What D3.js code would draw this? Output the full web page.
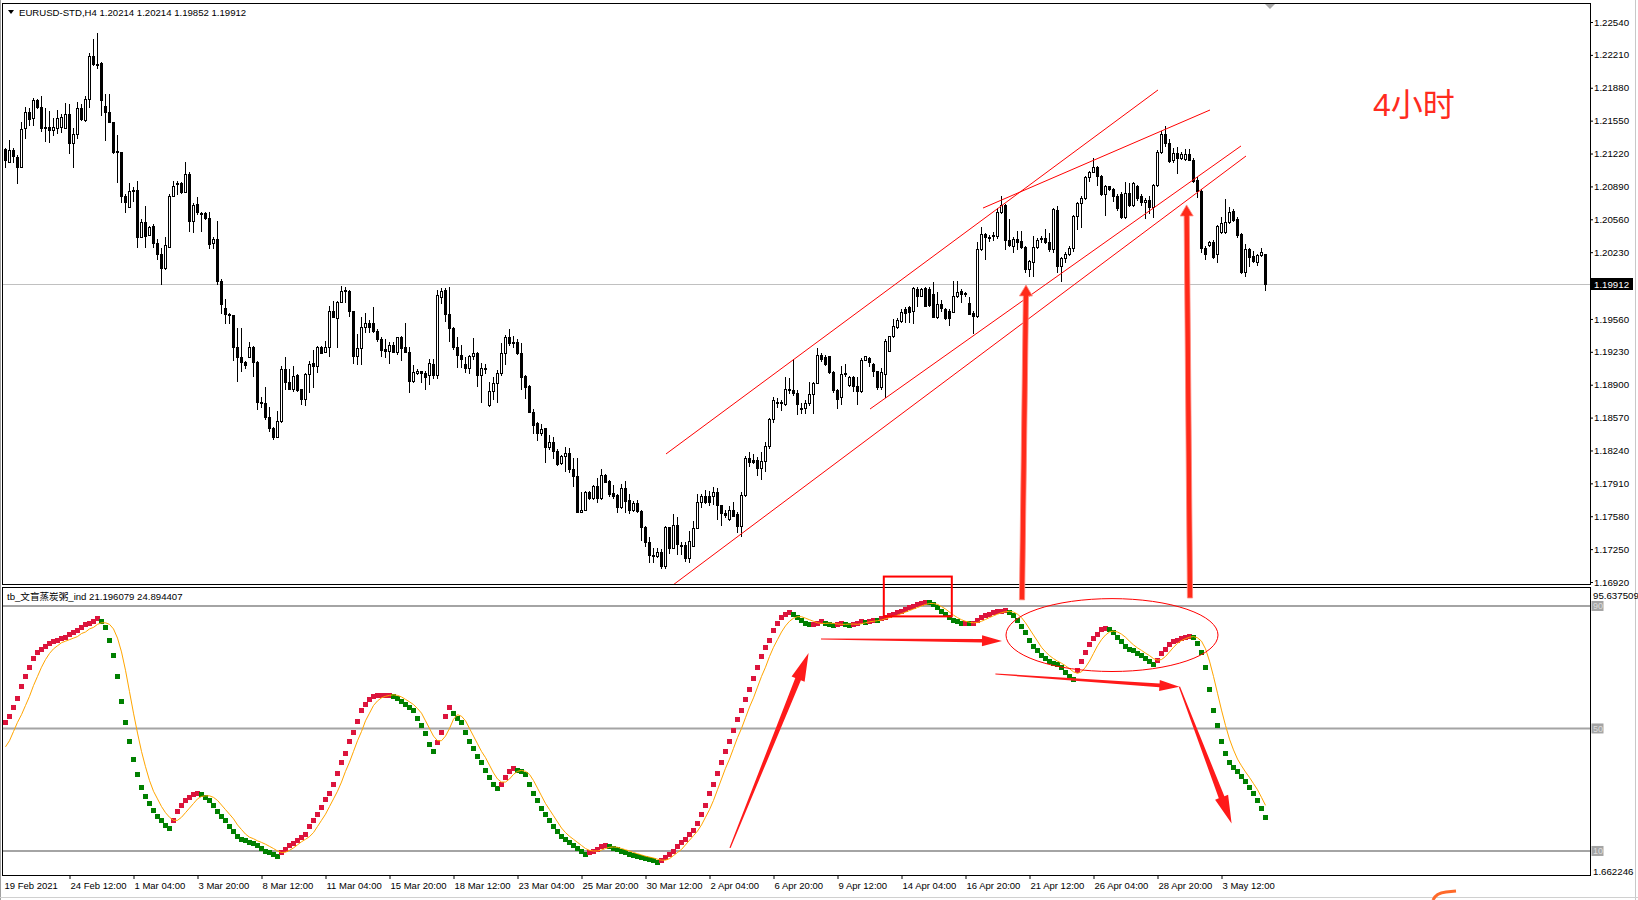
<!DOCTYPE html>
<html><head><meta charset="utf-8">
<script src="https://cdn.jsdelivr.net/npm/d3@7"></script>
<style>
html,body{margin:0;padding:0;background:#fff;overflow:hidden;}
svg{display:block;}
text{font-family:"Liberation Sans",Arial,"Noto Sans CJK SC",sans-serif;}
</style></head><body>
<svg id="chart" width="1638" height="900"></svg>
<script>
// ---------------- DATA ----------------
const opens=[1.2127,1.2113,1.2126,1.2119,1.2108,1.2148,1.2164,1.2158,1.2176,1.2169,
1.2148,1.2149,1.2146,1.2148,1.2149,1.2148,1.2162,1.2133,1.2142,1.2168,
1.2156,1.2177,1.2220,1.2212,1.2213,1.2170,1.2164,1.2154,1.2125,1.2124,
1.2079,1.2068,1.2084,1.2085,1.2038,1.2053,1.2040,1.2049,1.2032,1.2021,
1.2007,1.2028,1.2079,1.2091,1.2092,1.2083,1.2101,1.2054,1.2071,1.2062,
1.2062,1.2057,1.2032,1.2036,1.1994,1.1967,1.1961,1.1960,1.1928,1.1918,
1.1913,1.1918,1.1928,1.1913,1.1873,1.1872,1.1858,1.1847,1.1838,1.1854,
1.1906,1.1893,1.1886,1.1900,1.1886,1.1876,1.1901,1.1912,1.1909,1.1928,
1.1923,1.1928,1.1964,1.1957,1.1973,1.1985,1.1984,1.1964,1.1919,1.1927,
1.1948,1.1952,1.1952,1.1944,1.1936,1.1926,1.1924,1.1930,1.1923,1.1938,
1.1928,1.1923,1.1894,1.1902,1.1904,1.1902,1.1900,1.1911,1.1900,1.1978,
1.1985,1.1961,1.1947,1.1928,1.1920,1.1911,1.1907,1.1919,1.1922,1.1900,
1.1907,1.1870,1.1884,1.1892,1.1902,1.1922,1.1938,1.1933,1.1933,1.1922,
1.1899,1.1889,1.1863,1.1852,1.1842,1.1847,1.1827,1.1833,1.1823,1.1811,
1.1818,1.1821,1.1805,1.1798,1.1762,1.1764,1.1782,1.1776,1.1788,1.1776,
1.1799,1.1793,1.1781,1.1779,1.1767,1.1786,1.1774,1.1764,1.1771,1.1763,
1.1747,1.1732,1.1719,1.1718,1.1722,1.1708,1.1747,1.1726,1.1749,1.1729,
1.1729,1.1716,1.1728,1.1746,1.1772,1.1778,1.1778,1.1778,1.1782,1.1769,
1.1761,1.1755,1.1764,1.1760,1.1748,1.1779,1.1816,1.1814,1.1814,1.1806,
1.1813,1.1828,1.1856,1.1873,1.1872,1.1871,1.1885,1.1885,1.1882,1.1866,
1.1867,1.1872,1.1881,1.1892,1.1920,1.1918,1.1919,1.1903,1.1885,1.1878,
1.1901,1.1890,1.1898,1.1889,1.1884,1.1915,1.1917,1.1911,1.1904,1.1888,
1.1901,1.1924,1.1939,1.1948,1.1954,1.1966,1.1968,1.1964,1.1986,1.1979,
1.1987,1.1986,1.1981,1.1958,1.1971,1.1966,1.1964,1.1963,1.1979,1.1984,
1.1982,1.1972,1.1962,1.1959,1.2026,1.2041,1.2038,1.2039,1.2039,1.2063,
1.2070,1.2035,1.2029,1.2036,1.2034,1.2028,1.2006,1.2013,1.2028,1.2036,
1.2037,1.2033,1.2026,1.2065,1.2009,1.2017,1.2021,1.2027,1.2059,1.2072,
1.2077,1.2098,1.2103,1.2108,1.2099,1.2081,1.2089,1.2086,1.2079,1.2081,
1.2058,1.2082,1.2070,1.2089,1.2079,1.2073,1.2075,1.2068,1.2090,1.2124,
1.2142,1.2133,1.2116,1.2123,1.2118,1.2117,1.2122,1.2116,1.2095,1.2084,
1.2027,1.2030,1.2033,1.2021,1.2043,1.2043,1.2053,1.2064,1.2056,1.2041,
1.2003,1.2026,1.2019,1.2013,1.2020,1.20214];
const highs=[1.2128,1.2136,1.2128,1.2121,1.2154,1.2169,1.2168,1.2178,1.2177,1.2180,
1.2168,1.2165,1.2158,1.2166,1.2162,1.2173,1.2172,1.2148,1.2174,1.2172,
1.2180,1.2223,1.2237,1.2243,1.2214,1.2182,1.2182,1.2154,1.2141,1.2124,
1.2081,1.2092,1.2088,1.2094,1.2056,1.2069,1.2049,1.2051,1.2036,1.2027,
1.2038,1.2081,1.2094,1.2094,1.2093,1.2113,1.2103,1.2072,1.2078,1.2063,
1.2063,1.2063,1.2038,1.2054,1.1996,1.1976,1.1962,1.1960,1.1947,1.1947,
1.1914,1.1933,1.1929,1.1914,1.1878,1.1888,1.1868,1.1848,1.1864,1.1909,
1.1918,1.1906,1.1909,1.1901,1.1886,1.1902,1.1914,1.1925,1.1929,1.1929,
1.1934,1.1969,1.1974,1.1974,1.1989,1.1988,1.1985,1.1964,1.1941,1.1958,
1.1962,1.1955,1.1968,1.1946,1.1938,1.1936,1.1933,1.1933,1.1938,1.1939,
1.1952,1.1928,1.1910,1.1906,1.1904,1.1904,1.1916,1.1916,1.1985,1.1987,
1.1987,1.1988,1.1948,1.1938,1.1930,1.1918,1.1920,1.1937,1.1923,1.1912,
1.1911,1.1893,1.1898,1.1905,1.1932,1.1940,1.1946,1.1939,1.1936,1.1932,
1.1900,1.1890,1.1866,1.1853,1.1851,1.1847,1.1840,1.1838,1.1825,1.1819,
1.1827,1.1826,1.1816,1.1816,1.1782,1.1783,1.1783,1.1789,1.1796,1.1805,
1.1800,1.1794,1.1789,1.1780,1.1790,1.1793,1.1780,1.1773,1.1774,1.1764,
1.1748,1.1737,1.1726,1.1726,1.1725,1.1748,1.1747,1.1760,1.1757,1.1732,
1.1732,1.1743,1.1753,1.1780,1.1780,1.1784,1.1783,1.1787,1.1786,1.1769,
1.1764,1.1768,1.1772,1.1762,1.1782,1.1818,1.1822,1.1820,1.1817,1.1822,
1.1832,1.1857,1.1878,1.1877,1.1875,1.1898,1.1897,1.1916,1.1885,1.1872,
1.1875,1.1893,1.1893,1.1927,1.1922,1.1920,1.1919,1.1904,1.1886,1.1909,
1.1911,1.1899,1.1899,1.1898,1.1917,1.1919,1.1918,1.1912,1.1904,1.1907,
1.1936,1.1939,1.1956,1.1957,1.1966,1.1968,1.1969,1.1988,1.1988,1.1987,
1.1988,1.1988,1.1993,1.1983,1.1975,1.1967,1.1966,1.1994,1.1994,1.1986,
1.1983,1.1978,1.1964,1.2033,1.2048,1.2042,1.2040,1.2043,1.2067,1.2079,
1.2071,1.2056,1.2038,1.2044,1.2044,1.2029,1.2015,1.2039,1.2037,1.2039,
1.2046,1.2042,1.2067,1.2069,1.2018,1.2023,1.2029,1.2060,1.2073,1.2079,
1.2099,1.2104,1.2118,1.2109,1.2100,1.2090,1.2089,1.2087,1.2081,1.2083,
1.2093,1.2092,1.2093,1.2090,1.2081,1.2077,1.2079,1.2091,1.2126,1.2145,
1.2150,1.2137,1.2128,1.2129,1.2124,1.2127,1.2127,1.2118,1.2098,1.2086,
1.2029,1.2034,1.2035,1.2050,1.2058,1.2076,1.2068,1.2066,1.2058,1.2042,
1.2031,1.2027,1.2024,1.2021,1.2027,1.20214];
const lows=[1.2108,1.2113,1.2113,1.2092,1.2108,1.2138,1.2151,1.2151,1.2168,1.2145,
1.2135,1.2134,1.2141,1.2143,1.2144,1.2148,1.2123,1.2108,1.2138,1.2156,
1.2155,1.2169,1.2211,1.2208,1.2161,1.2136,1.2154,1.2123,1.2093,1.2073,
1.2063,1.2068,1.2074,1.2028,1.2038,1.2028,1.2040,1.2028,1.2016,1.1991,
1.2006,1.2028,1.2079,1.2081,1.2082,1.2083,1.2044,1.2043,1.2061,1.2044,
1.2056,1.2027,1.2027,1.1991,1.1962,1.1952,1.1952,1.1915,1.1894,1.1904,
1.1907,1.1918,1.1899,1.1866,1.1868,1.1856,1.1844,1.1836,1.1838,1.1853,
1.1886,1.1886,1.1884,1.1884,1.1871,1.1870,1.1883,1.1888,1.1903,1.1922,
1.1923,1.1919,1.1958,1.1928,1.1973,1.1973,1.1959,1.1912,1.1911,1.1911,
1.1943,1.1943,1.1943,1.1934,1.1919,1.1918,1.1912,1.1923,1.1921,1.1915,
1.1923,1.1883,1.1893,1.1901,1.1893,1.1886,1.1891,1.1897,1.1897,1.1972,
1.1954,1.1934,1.1926,1.1908,1.1908,1.1903,1.1902,1.1916,1.1889,1.1873,
1.1902,1.1869,1.1876,1.1873,1.1900,1.1911,1.1930,1.1928,1.1921,1.1886,
1.1877,1.1863,1.1842,1.1835,1.1840,1.1812,1.1825,1.1816,1.1809,1.1810,
1.1803,1.1802,1.1788,1.1762,1.1762,1.1764,1.1775,1.1775,1.1772,1.1775,
1.1792,1.1778,1.1776,1.1762,1.1766,1.1762,1.1761,1.1763,1.1762,1.1734,
1.1728,1.1712,1.1712,1.1717,1.1706,1.1706,1.1721,1.1726,1.1720,1.1720,
1.1713,1.1712,1.1728,1.1746,1.1767,1.1771,1.1769,1.1770,1.1755,1.1749,
1.1757,1.1754,1.1758,1.1742,1.1738,1.1778,1.1808,1.1811,1.1799,1.1795,
1.1803,1.1826,1.1853,1.1868,1.1865,1.1870,1.1882,1.1880,1.1861,1.1862,
1.1862,1.1870,1.1862,1.1892,1.1914,1.1910,1.1902,1.1883,1.1867,1.1871,
1.1899,1.1889,1.1884,1.1871,1.1883,1.1915,1.1909,1.1899,1.1886,1.1886,
1.1878,1.1924,1.1938,1.1947,1.1953,1.1953,1.1953,1.1952,1.1969,1.1979,
1.1969,1.1969,1.1958,1.1957,1.1964,1.1956,1.1950,1.1963,1.1978,1.1973,
1.1979,1.1961,1.1942,1.1958,1.2025,1.2016,1.2034,1.2035,1.2037,1.2062,
1.2026,1.2029,1.2023,1.2026,1.2027,1.2003,1.1999,1.1999,1.2027,1.2033,
1.2032,1.2024,1.2023,1.2003,1.1994,1.2013,1.2020,1.2024,1.2046,1.2048,
1.2076,1.2094,1.2103,1.2090,1.2080,1.2060,1.2085,1.2074,1.2065,1.2057,
1.2057,1.2069,1.2069,1.2075,1.2070,1.2057,1.2062,1.2058,1.2089,1.2123,
1.2130,1.2113,1.2114,1.2102,1.2117,1.2116,1.2116,1.2093,1.2078,1.2023,
1.2016,1.2029,1.2017,1.2013,1.2042,1.2042,1.2052,1.2054,1.2038,1.2002,
1.1999,1.2009,1.2013,1.2010,1.2019,1.19852];
const closes=[1.2116,1.2126,1.2120,1.2108,1.2147,1.2164,1.2157,1.2176,1.2169,1.2148,
1.2149,1.2146,1.2149,1.2158,1.2159,1.2162,1.2133,1.2142,1.2168,1.2157,
1.2177,1.2220,1.2212,1.2211,1.2176,1.2164,1.2154,1.2124,1.2124,1.2079,
1.2073,1.2084,1.2085,1.2038,1.2053,1.2039,1.2048,1.2032,1.2021,1.2007,
1.2030,1.2079,1.2089,1.2092,1.2083,1.2101,1.2054,1.2070,1.2063,1.2061,
1.2057,1.2031,1.2036,1.1994,1.1971,1.1961,1.1960,1.1928,1.1918,1.1913,
1.1910,1.1928,1.1913,1.1873,1.1872,1.1858,1.1847,1.1838,1.1854,1.1906,
1.1893,1.1886,1.1899,1.1885,1.1876,1.1901,1.1911,1.1909,1.1928,1.1922,
1.1928,1.1964,1.1958,1.1973,1.1984,1.1984,1.1964,1.1919,1.1927,1.1948,
1.1952,1.1948,1.1944,1.1936,1.1925,1.1924,1.1930,1.1923,1.1938,1.1927,
1.1923,1.1894,1.1903,1.1904,1.1902,1.1898,1.1912,1.1900,1.1980,1.1984,
1.1961,1.1947,1.1928,1.1920,1.1916,1.1907,1.1919,1.1922,1.1900,1.1907,
1.1906,1.1884,1.1892,1.1902,1.1922,1.1938,1.1932,1.1932,1.1922,1.1898,
1.1888,1.1863,1.1850,1.1842,1.1846,1.1827,1.1833,1.1823,1.1810,1.1818,
1.1821,1.1805,1.1798,1.1762,1.1764,1.1782,1.1776,1.1788,1.1776,1.1799,
1.1792,1.1780,1.1778,1.1767,1.1786,1.1773,1.1764,1.1771,1.1763,1.1747,
1.1732,1.1719,1.1718,1.1722,1.1708,1.1747,1.1726,1.1749,1.1730,1.1728,
1.1716,1.1733,1.1746,1.1772,1.1778,1.1772,1.1772,1.1782,1.1769,1.1761,
1.1759,1.1764,1.1758,1.1748,1.1779,1.1816,1.1812,1.1812,1.1806,1.1813,
1.1828,1.1856,1.1875,1.1872,1.1873,1.1886,1.1886,1.1882,1.1871,1.1867,
1.1872,1.1881,1.1892,1.1920,1.1916,1.1911,1.1903,1.1885,1.1876,1.1901,
1.1902,1.1898,1.1889,1.1884,1.1915,1.1919,1.1913,1.1904,1.1888,1.1903,
1.1934,1.1939,1.1949,1.1955,1.1963,1.1962,1.1963,1.1987,1.1979,1.1986,
1.1969,1.1970,1.1958,1.1971,1.1967,1.1957,1.1957,1.1979,1.1983,1.1981,
1.1981,1.1961,1.1959,1.2026,1.2041,1.2038,1.2037,1.2040,1.2063,1.2070,
1.2035,1.2030,1.2036,1.2033,1.2028,1.2006,1.2014,1.2028,1.2035,1.2037,
1.2033,1.2026,1.2066,1.2009,1.2017,1.2021,1.2027,1.2059,1.2072,1.2077,
1.2098,1.2103,1.2108,1.2099,1.2081,1.2089,1.2086,1.2079,1.2067,1.2058,
1.2082,1.2070,1.2092,1.2077,1.2073,1.2075,1.2068,1.2090,1.2124,1.2142,
1.2133,1.2115,1.2123,1.2118,1.2122,1.2122,1.2116,1.2094,1.2084,1.2027,
1.2021,1.2033,1.2018,1.2049,1.2052,1.2053,1.2063,1.2055,1.2040,1.2003,
1.2026,1.2018,1.2014,1.2020,1.2023,1.19912];

const indicatorValues=[52,54,57,60,64,67,70,73,75,76,
77,78,78.5,79,79.5,80,81,81.5,82,83,
84,84.5,85,86,85,83,79,74,67,59,
52,46,40,35,31,28,25.5,23.5,21.5,20,
18.5,17.5,20,23,25,26.5,27.5,28.5,29,28.5,
27.5,26.5,25,23,21.5,20,18,16.5,15,14,
13.5,13,12.5,12,11,10,9.5,9,8.4,9.5,
10.5,12,12.5,13.5,14.5,15.5,18,20,22,24.5,
27,29,32,35.5,39,42,46,49,52.5,56,
58,59.5,60.5,61,61,61,61,60.5,60,59,
58,57,56,53.5,51,48.5,45,42.5,45.5,49,
54,57,55,53.5,52,49,46,43.5,41,39,
36.5,34,32,30.5,32,34,36,37,36.5,36,
35,32,29,26.5,24,22,20,18,16.5,15,
14,13,12,11,10,9,9.5,10,10.5,11.5,
12,11.5,11,10.5,10,9.5,9,8.7,8.3,8,
7.8,7.5,7,6.3,7,8,9,10,11.5,13,
14,15.5,17,19,22,25,29,32,35.5,39,
42.5,46,49.5,53,56,59.5,63,66.5,70,73.5,
76.5,79,82,84.5,86.5,87.5,88,87.5,86.5,85.5,
84.5,84,84,84.5,85,84.5,84,83.8,84,84.5,
84,83.8,84,84.5,85,84.8,85,85.5,85.3,86,
86.5,87,87.5,88,88.5,89,89.5,90,90.5,91,
91.4,91.2,90.5,89.5,88.5,87.5,86.5,85.5,85,84.5,
84.5,84.3,84.5,85.5,86.5,87,87.5,88,88.3,88.5,
88.6,88,87,85.5,83.5,81.5,79,77,75.5,74,
73,72,71.5,71,70,68.5,67,66,69,72,
75,77.5,79.5,81,82.5,82.8,82.5,81.5,80,78.5,
77,76,75.5,74.5,74,73,72,71,72.5,74.5,
76,77.5,78.5,79,79.5,80,80.2,80,78,75,
70,63,56,51,46,42,39,37.5,36,34.5,
33,31,29,26.5,24,21.196079];
const signalValues=[44,46,49,52,54.5,57.5,60.5,64,67,70,
72.5,74.5,76,77,78,78.5,79,79.5,80,81,
81.5,82.5,83,84,84.5,84.5,84,82.5,79.5,75,
69,62,55,48.5,42.5,37.5,33,29.5,27,24.5,
22.5,21,20,20,21,22.5,24,25.5,27,27.8,
28,28,27.5,26.5,25,23.5,22,20.5,18.5,17,
15.5,14.5,14,13.3,12.8,12.2,11.5,10.8,10,9.5,
9.6,10.2,11,12,13,13.8,14.7,16,18,20,
22,24.5,27,29.5,32.5,36,39,42.5,46,49,
52.5,55,57.5,59,60,60.5,60.8,61,60.8,60.3,
59.5,58.7,57.8,56.5,55,52.5,50,47.5,46,46,
47.5,50,53,54.5,54,52.5,50,47.5,45,42.5,
40.5,38,35.5,33.5,32.5,32.5,33.5,35,36,36.3,
36,35,33,30.5,28,25.5,23.5,21.5,19.5,17.5,
16,14.8,13.8,12.8,11.8,10.8,10.2,10,10,10.3,
10.8,11.2,11.3,11.2,10.8,10.4,10,9.5,9.1,8.7,
8.3,8,7.7,7.3,7,7,7.5,8.5,9.5,10.5,
12,13.5,15,16.5,18.5,21,23.5,26.5,30,33.5,
37,40,43.5,47,50,53.5,57,60,63.5,67,
70,73.5,76.5,79,81.5,83.5,85,86,86.5,86.5,
86,85.5,85,84.5,84.3,84.3,84.4,84.3,84.1,84,
84,84.1,84.1,84,84.2,84.5,84.8,85,85.2,85.4,
85.8,86.2,86.6,87,87.5,88,88.5,89,89.5,90,
90.5,90.8,90.8,90.5,89.8,89,88,87,86.2,85.5,
85,84.7,84.5,84.6,85,85.6,86.2,86.8,87.3,87.8,
88.1,88.3,88,87.3,86.2,84.5,82.5,80.5,78.5,76.5,
75,73.8,72.8,72,71.3,70.5,69.5,68.5,68,68.5,
70,72,74.5,77,79,80.5,81.5,81.8,81.5,80.8,
79.8,78.5,77.3,76.3,75.5,74.6,73.8,72.8,72.3,72.5,
73.5,75,76.5,77.8,78.7,79.3,79.8,80,79.6,78.5,
76,72,67,61.5,56,51,46.5,43,40,37.8,
35.8,34,32,30,27.5,24.894407];

const priceTicks=[1.22540,1.22210,1.21880,1.21550,1.21220,1.20890,1.20560,1.20230,
1.19560,1.19230,1.18900,1.18570,1.18240,1.17910,1.17580,1.17250,1.16920];
const timeLabels=["19 Feb 2021","24 Feb 12:00","1 Mar 04:00","3 Mar 20:00","8 Mar 12:00","11 Mar 04:00",
"15 Mar 20:00","18 Mar 12:00","23 Mar 04:00","25 Mar 20:00","30 Mar 12:00","2 Apr 04:00","6 Apr 20:00",
"9 Apr 12:00","14 Apr 04:00","16 Apr 20:00","21 Apr 12:00","26 Apr 04:00","28 Apr 20:00","3 May 12:00"];
const timeTickBars=[0,16,32,48,64,80,96,112,128,144,160,176,192,208,224,240,256,272,288,304];
const indicatorLevels=[90,50,10];
const lastPrice=1.19912, indMax=95.637509, indMin=1.662246;
const symbolTitle="EURUSD-STD,H4  1.20214 1.20214 1.19852 1.19912";
const indicatorTitle="tb_文盲蒸炭粥_ind 21.196079 24.894407";
const noteText="4小时";

// annotations in data units: [bar, price] / [bar, indicator value]
const trendLines=[[[165.25,1.18205],[288.25,1.21858]],[[244.5,1.20673],[301.25,1.21657]],
  [[216.25,1.18656],[309,1.21296]],[[167,1.16890],[310.25,1.21195]]];
const upArrows=[{tail:[254.25,92],tip:[255.25,1.19901]},{tail:[296.25,92.6],tip:[295.4,1.20704]}];
const indArrows=[{from:[181.25,11],to:[200.9,74.6],big:true},{from:[204,79.2],to:[249.25,78.6],big:false},
  {from:[247.6,67.8],to:[293.6,63.6],big:false},{from:[293.6,63.6],to:[306.65,19.0],big:true}];
const boxNote={x0:219.7,x1:236.7,v0:99.6,v1:86.6};
const ellipseNote={cx:276.75,cv:80.5,rBars:26.5,rv:11.9};

// ---------------- DRAW ----------------
const W=1638,H=900,n=closes.length;
const svg=d3.select("#chart");
const x=d3.scaleLinear().domain([0,n-1]).range([5,5+4*(n-1)]);
const yP=d3.scaleLinear().domain([1.16920,1.22540]).range([582,22]);
const yI=d3.scaleLinear().domain([indMin,indMax]).range([876.5,588.7]);
const FONT='"Liberation Sans",Arial,sans-serif';

svg.append("rect").attr("width",W).attr("height",H).attr("fill","#fff");
const defs=svg.append("defs");
defs.append("clipPath").attr("id","cm").append("rect").attr("x",3).attr("y",4).attr("width",1587).attr("height",580);
defs.append("clipPath").attr("id","cs").append("rect").attr("x",3).attr("y",588).attr("width",1587).attr("height",287);

// window edges
svg.append("line").attr("x1",0.5).attr("x2",0.5).attr("y1",0).attr("y2",H).attr("stroke","#a0a0a0");
svg.append("line").attr("x1",1635.5).attr("x2",1635.5).attr("y1",0).attr("y2",H).attr("stroke","#c8c8c8");
svg.append("line").attr("x1",0).attr("x2",W).attr("y1",897.5).attr("y2",897.5).attr("stroke","#d0d0d0");

// current price line
const yc=Math.round(yP(lastPrice))+0.5;
svg.append("line").attr("x1",3).attr("x2",1590).attr("y1",yc).attr("y2",yc).attr("stroke","#c0c0c0");

// candles
const gC=svg.append("g").attr("clip-path","url(#cm)").attr("shape-rendering","crispEdges");
const idx=d3.range(n);
gC.selectAll("line.w").data(idx).join("line").attr("class","w")
  .attr("x1",i=>x(i)+0.5).attr("x2",i=>x(i)+0.5)
  .attr("y1",i=>Math.round(yP(Math.max(highs[i],opens[i],closes[i]))))
  .attr("y2",i=>Math.round(yP(Math.min(lows[i],opens[i],closes[i])))+1)
  .attr("stroke","#000");
idx.forEach(i=>{
  const t=Math.round(yP(Math.max(opens[i],closes[i]))), b=Math.round(yP(Math.min(opens[i],closes[i])));
  if(b-t<1){
    gC.append("line").attr("x1",x(i)-1).attr("x2",x(i)+2).attr("y1",t+0.5).attr("y2",t+0.5).attr("stroke","#000");
  } else {
    gC.append("rect").attr("x",x(i)-0.5).attr("y",t+0.5).attr("width",2).attr("height",b-t)
      .attr("fill",closes[i]>=opens[i]?"#fff":"#000").attr("stroke","#000");
  }
});

// panel frames
svg.append("rect").attr("x",2.5).attr("y",3.5).attr("width",1588).attr("height",581).attr("fill","none").attr("stroke","#000").attr("shape-rendering","crispEdges");
svg.append("rect").attr("x",2.5).attr("y",587.5).attr("width",1588).attr("height",288).attr("fill","none").attr("stroke","#000").attr("shape-rendering","crispEdges");

// header
svg.append("path").attr("d","M8,10L14,10L11,14Z").attr("fill","#000");
svg.append("text").attr("x",19).attr("y",16).attr("font-size","9.6px").attr("font-family",FONT).text(symbolTitle);
svg.append("path").attr("d","M1265,4L1275,4L1270,9Z").attr("fill","#a8a8a8");

// price axis
const pAxis=d3.axisRight(yP).tickValues(priceTicks).tickFormat(d3.format(".5f")).tickSize(3).tickPadding(1);
const gA=svg.append("g").attr("transform","translate(1590,0)").call(pAxis);
gA.select(".domain").remove();
gA.selectAll("text").attr("font-size","9.7px").attr("font-family",FONT).attr("fill","#000");
gA.selectAll("line").attr("stroke","#000");
svg.append("rect").attr("x",1591).attr("y",yc-6.5).attr("width",42).attr("height",12).attr("fill","#000");
svg.append("text").attr("x",1594).attr("y",yc+3.5).attr("font-size","9.7px").attr("font-family",FONT).attr("fill","#fff").text(lastPrice.toFixed(5));

// time axis
const tAxis=d3.axisBottom(x).tickValues(timeTickBars).tickFormat((d,i)=>timeLabels[i]).tickSize(4).tickPadding(3);
const gT=svg.append("g").attr("transform","translate(0.5,875)").call(tAxis);
gT.select(".domain").remove();
gT.selectAll("text").attr("text-anchor","start").attr("dx","0.5").attr("font-size","9.5px").attr("font-family",FONT).attr("fill","#000");
gT.selectAll("line").attr("stroke","#000");
gT.selectAll(".tick").filter(d=>d===0).select("line").remove();
gT.selectAll(".tick").filter(d=>d===0).select("text").attr("dx","-1.5");

// indicator panel
indicatorLevels.forEach(L=>{
  const yy=yI(L);
  svg.append("line").attr("x1",3).attr("x2",1590).attr("y1",yy).attr("y2",yy).attr("stroke","#a4a4a4").attr("stroke-width",2);
  svg.append("rect").attr("x",1591.5).attr("y",yy-5).attr("width",12).attr("height",10).attr("fill","#a4a4a4");
  svg.append("text").attr("x",1593).attr("y",yy+3.5).attr("font-size","9px").attr("font-family",FONT).attr("fill","#dedede").text(L);
});
svg.append("text").attr("x",1593).attr("y",yI(indMax)+10).attr("font-size","9.7px").attr("font-family",FONT).text(indMax.toFixed(6));
svg.append("text").attr("x",1593).attr("y",yI(indMin)-2).attr("font-size","9.7px").attr("font-family",FONT).text(indMin.toFixed(6));
svg.append("text").attr("x",7).attr("y",600).attr("font-size","9.6px").attr("font-family",'"Liberation Sans","Noto Sans CJK SC",sans-serif').text(indicatorTitle);

const gS=svg.append("g").attr("clip-path","url(#cs)");
gS.selectAll("rect.d").data(idx).join("rect").attr("class","d")
  .attr("x",i=>x(i)-2).attr("y",i=>Math.round(yI(indicatorValues[i]))-2).attr("width",5).attr("height",5)
  .attr("fill",i=>(i===0||indicatorValues[i]>=indicatorValues[i-1])?"#dc143c":"#008000")
  .attr("shape-rendering","crispEdges");
gS.append("path").datum(idx).attr("fill","none").attr("stroke","#ffa500").attr("stroke-width",1)
  .attr("d",d3.line().x(i=>x(i)+0.5).y(i=>yI(signalValues[i])));

// annotations
function taper(x1,y1,x2,y2,tailHalf,baseHalf,headHalf,headLen){
  const dx=x2-x1,dy=y2-y1,L=Math.hypot(dx,dy),ux=dx/L,uy=dy/L,nx=-uy,ny=ux;
  const bx=x2-ux*headLen,by=y2-uy*headLen;
  const p=[[x1+nx*tailHalf,y1+ny*tailHalf],[bx+nx*baseHalf,by+ny*baseHalf],[bx+nx*headHalf,by+ny*headHalf],[x2,y2],
    [bx-nx*headHalf,by-ny*headHalf],[bx-nx*baseHalf,by-ny*baseHalf],[x1-nx*tailHalf,y1-ny*tailHalf]];
  return "M"+p.map(q=>q[0].toFixed(1)+","+q[1].toFixed(1)).join("L")+"Z";
}
const gN=svg.append("g");
const gTL=gN.append("g").attr("clip-path","url(#cm)");
trendLines.forEach(l=>{
  gTL.append("line").attr("x1",x(l[0][0])).attr("y1",yP(l[0][1])).attr("x2",x(l[1][0])).attr("y2",yP(l[1][1]))
    .attr("stroke","#ff0000").attr("stroke-width",1);
});
upArrows.forEach(a=>{
  gN.append("path").attr("d",taper(x(a.tail[0]),yI(a.tail[1]),x(a.tip[0]),yP(a.tip[1]),2.6,2.6,6.5,11))
    .attr("fill","#ff2a1a").attr("stroke","#ff8c80").attr("stroke-width",0.8);
});
indArrows.forEach(a=>{
  const big=a.big;
  gN.append("path").attr("d",taper(x(a.from[0]),yI(a.from[1]),x(a.to[0]),yI(a.to[1]),0.6,big?3:1.8,big?7:5.5,big?28:20))
    .attr("fill","#ff1a1a");
});
gN.append("rect").attr("x",x(boxNote.x0)).attr("y",yI(boxNote.v0)).attr("width",x(boxNote.x1)-x(boxNote.x0))
  .attr("height",yI(boxNote.v1)-yI(boxNote.v0)).attr("fill","none").attr("stroke","#ff0000").attr("stroke-width",2);
gN.append("ellipse").attr("cx",x(ellipseNote.cx)).attr("cy",yI(ellipseNote.cv)).attr("rx",x(ellipseNote.rBars)-x(0))
  .attr("ry",yI(0)-yI(ellipseNote.rv)).attr("fill","none").attr("stroke","#ff0000").attr("stroke-width",1);
gN.append("text").attr("x",1373).attr("y",116).attr("font-size","32px").attr("font-family",'"Noto Sans CJK SC",sans-serif')
  .attr("fill","#ff2b1e").text(noteText);
gN.append("path").attr("d","M1433,900Q1436,893 1446,892L1456,891").attr("fill","none").attr("stroke","#ff6a2a").attr("stroke-width",3);
</script>
</body></html>
